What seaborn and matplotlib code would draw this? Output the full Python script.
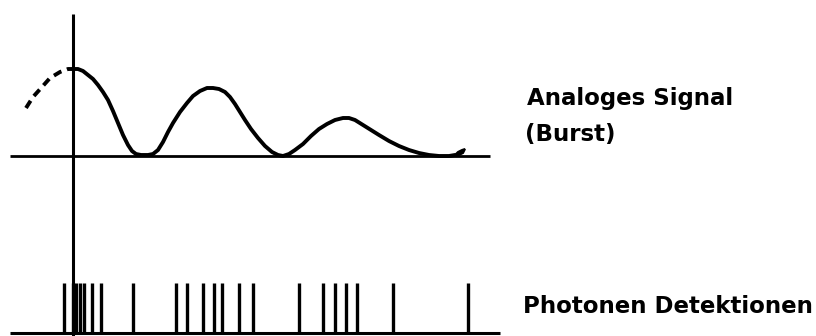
import matplotlib
matplotlib.use("Agg")
import matplotlib.pyplot as plt
import seaborn as sns

# ---- data (time in arbitrary units, axis at t=0; amplitude in arbitrary units)
# dashed (extrapolated) part of the burst before t=0
dash_t = [-47, -40, -31, -23, -13, -5, 0]
dash_a = [48, 59, 69, 78, 84, 87, 87]
# analog burst signal
sig_t = [0, 5, 10, 15, 20, 25, 30, 35, 40, 45, 50, 55, 59, 63, 68, 75, 80,
         85, 90, 95, 100, 107, 114, 120, 127, 134, 140, 146, 152,
         157, 162, 167, 172, 178, 185, 192, 199, 205, 210, 216, 222,
         230, 238, 246, 254, 262, 270, 276, 282, 290, 298, 306, 316, 326,
         336, 346, 356, 366, 376, 382]
sig_a = [87, 87, 85, 81, 77, 71, 64, 56, 45, 33, 21, 11, 5, 2, 1, 1, 2,
         6, 14, 24, 33, 44, 53, 60, 65, 68, 68, 67, 64,
         59, 52, 44, 36, 27, 18, 10, 4, 1, 0, 2, 6,
         12, 20, 27, 32, 36, 38, 38, 36, 31, 26, 21, 15, 10,
         6, 3, 1, 0, 0, 1]
# small trailing blip at the end of the burst
hook_t = [381, 385, 389, 392, 390, 384]
hook_a = [0, 4, 6, 7, 3, 0]
# photon detection times
photon_t = [-9, 0, 3, 7, 11, 19, 28, 60, 103, 114, 130, 141, 149, 166, 180,
            226, 250, 262, 273, 284, 320, 395]

labels = ["Analoges Signal", "(Burst)", "Photonen Detektionen"]

sns.set_style("white")
plt.rcParams["font.family"] = ["DejaVu Sans"]

fig = plt.figure(figsize=(8.16, 3.36), dpi=100)
ax = fig.add_axes([0, 0, 1, 1])
ax.set_xlim(-73, 743)
ax.set_ylim(-180, 156)
ax.axis("off")

ink = "black"
# baselines and vertical axis
ax.plot([-63, 417], [0, 0], color=ink, lw=2.0, solid_capstyle="butt")
ax.plot([-63, 427], [-177, -177], color=ink, lw=2.2, solid_capstyle="butt")
ax.plot([0, 0], [142, -180], color=ink, lw=2.2, solid_capstyle="butt")

# curves
sns.lineplot(x=dash_t, y=dash_a, sort=False, ax=ax, color=ink, lw=2.8,
             linestyle=(0, (2.2, 1.5)), estimator=None)
sns.lineplot(x=sig_t, y=sig_a, sort=False, ax=ax, color=ink, lw=2.8,
             estimator=None)
ax.fill(hook_t, hook_a, color=ink, lw=1.5)

# photon ticks
ax.vlines(photon_t, -177, -127, color=ink, lw=2.4)

tkw = dict(fontsize=16.5, fontweight="bold", color=ink, va="baseline", ha="left")
ax.text(454, 51, labels[0], **tkw)
ax.text(452, 15, labels[1], **tkw)
ax.text(450, -157, labels[2], **tkw)

fig.savefig("out.png", dpi=100)
